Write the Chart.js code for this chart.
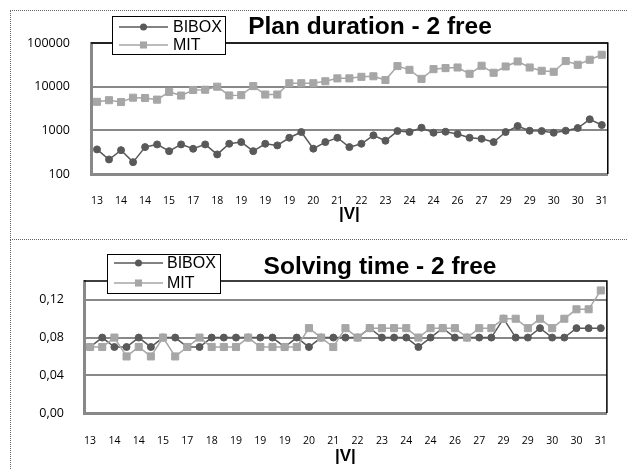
<!DOCTYPE html>
<html>
<head>
<meta charset="utf-8">
<script src="https://cdn.jsdelivr.net/npm/chart.js@4.4.1/dist/chart.umd.min.js"></script>
<style>
  body { margin: 0; background: #fff; }
  .frame { position: absolute; left: 10px; width: 618px; border-top: 1px dotted #666; border-left: 1px dotted #666; }
  canvas { position: absolute; left: 0; top: 0; }
</style>
</head>
<body>
<div class="frame" style="top:10px;height:229px"><canvas id="plan" width="618" height="229"></canvas></div>
<div class="frame" style="top:239px;height:231px"><canvas id="time" width="618" height="231"></canvas></div>
<script>
// |V| per instance (only every second one is printed on the axis)
const sizes = [13, 13, 14, 14, 14, 15, 15, 16, 17, 17, 18, 18, 19, 19, 19, 19, 19, 20, 20, 20, 21, 21,
  22, 22, 23, 23, 24, 24, 24, 25, 26, 26, 27, 28, 29, 29, 29, 30, 30, 30, 30, 31, 31];

const planBibox = [366, 215, 352, 187, 413, 476, 334, 476, 378, 476, 281, 493, 538, 334, 493, 452, 676, 914,
  380, 538, 676, 413, 493, 767, 577, 963, 914, 1148, 881, 929, 822, 676, 641, 538, 914, 1256, 980, 963,
  881, 980, 1130, 1790, 1324];
const planMit = [4500, 4900, 4450, 5600, 5500, 5050, 7600, 6250, 8400, 8500, 10000, 6300, 6400, 10300, 6600,
  6600, 12000, 12000, 12000, 13300, 15500, 15500, 16800, 17300, 14200, 29600, 24300, 15100, 25200, 26600,
  27500, 19700, 30100, 20800, 29000, 37800, 27500, 23100, 21900, 38600, 31700, 41300, 53800];

const timeBibox = [0.07, 0.08, 0.07, 0.07, 0.08, 0.07, 0.08, 0.08, 0.07, 0.07, 0.08, 0.08, 0.08, 0.08, 0.08,
  0.08, 0.07, 0.08, 0.07, 0.08, 0.08, 0.08, 0.08, 0.09, 0.08, 0.08, 0.08, 0.07, 0.08, 0.09, 0.08, 0.08,
  0.08, 0.08, 0.10, 0.08, 0.08, 0.09, 0.08, 0.08, 0.09, 0.09, 0.09];
const timeMit = [0.07, 0.07, 0.08, 0.06, 0.07, 0.06, 0.08, 0.06, 0.07, 0.08, 0.07, 0.07, 0.07, 0.08, 0.07,
  0.07, 0.07, 0.07, 0.09, 0.08, 0.07, 0.09, 0.08, 0.09, 0.09, 0.09, 0.09, 0.08, 0.09, 0.09, 0.09, 0.08,
  0.09, 0.09, 0.10, 0.10, 0.09, 0.10, 0.09, 0.10, 0.11, 0.11, 0.13];

const planTicks = [100, 1000, 10000, 100000];
const timeTicks = [0, 0.04, 0.08, 0.12];

const DARK = "#595959";
const LIGHT = "#a6a6a6";
const AXIS = "#888888";

// title, black top/right frame and the boxed legend that sits over the plot
const excelDecor = {
  id: "excelDecor",
  afterDraw(chart, args, o) {
    const { ctx, chartArea: a } = chart;
    ctx.save();
    ctx.strokeStyle = "#000";
    ctx.lineWidth = 1.5;
    ctx.beginPath();
    ctx.moveTo(a.left, a.top);
    ctx.lineTo(a.right, a.top);
    ctx.lineTo(a.right, a.bottom);
    ctx.stroke();

    ctx.fillStyle = "#000";
    ctx.font = 'bold 24.5px "Liberation Sans", Arial, sans-serif';
    ctx.textAlign = "center";
    ctx.textBaseline = "alphabetic";
    ctx.fillText(o.title, o.titleX, o.titleY);

    const b = o.box;
    ctx.fillStyle = "#fff";
    ctx.fillRect(b.x, b.y, b.w, b.h);
    ctx.strokeStyle = "#000";
    ctx.lineWidth = 1;
    ctx.strokeRect(b.x + 0.5, b.y + 0.5, b.w, b.h);
    ctx.font = '16px "Liberation Sans", Arial, sans-serif';
    ctx.textAlign = "left";
    ctx.textBaseline = "middle";
    chart.data.datasets.forEach((ds, i) => {
      const y = b.rows[i];
      const mx = (b.x0 + b.x1) / 2;
      ctx.strokeStyle = ds.borderColor;
      ctx.fillStyle = ds.borderColor;
      ctx.lineWidth = 1.5;
      ctx.beginPath();
      ctx.moveTo(b.x0, y);
      ctx.lineTo(b.x1, y);
      ctx.stroke();
      ctx.beginPath();
      if (ds.pointStyle === "rect") {
        const s = ds.pointRadius * Math.SQRT1_2;
        ctx.rect(mx - s, y - s, 2 * s, 2 * s);
      } else {
        ctx.arc(mx, y, ds.pointRadius, 0, Math.PI * 2);
      }
      ctx.fill();
      ctx.fillStyle = "#000";
      ctx.fillText(ds.label, b.tx, y + 1);
    });
    ctx.restore();
  },
};

function series(label, data, color, style, radius, order) {
  return {
    label, data, order,
    borderColor: color, backgroundColor: color,
    borderWidth: 1.5, pointStyle: style, pointRadius: radius,
    pointBorderWidth: 1, pointHoverRadius: radius, tension: 0,
  };
}

function makeChart(id, s) {
  return new Chart(document.getElementById(id), {
    type: "line",
    data: {
      labels: sizes,
      datasets: [
        series("BIBOX", s.bibox, DARK, "circle", 3.5, 1),
        series("MIT", s.mit, LIGHT, "rect", 5, 0),
      ],
    },
    plugins: [excelDecor],
    options: {
      responsive: false,
      animation: false,
      events: [],
      layout: { autoPadding: false, padding: { left: 0, right: s.padRight, top: s.padTop, bottom: 0 } },
      plugins: {
        legend: { display: false },
        tooltip: { enabled: false },
        excelDecor: s.decor,
      },
      scales: {
        x: {
          offset: true,
          afterFit: (sc) => { sc.height = s.xHeight; },
          border: { color: AXIS, width: 3 },
          grid: { display: false, drawTicks: false },
          ticks: {
            autoSkip: false, maxRotation: 0, padding: s.xPad, color: "#000",
            font: { family: "Open Sans", size: 10.5 },
            callback(v, i) { return i % 2 ? "" : this.getLabelForValue(v); },
          },
          title: {
            display: true, text: "|V|", color: "#000",
            font: { family: "Liberation Sans", size: 17, weight: "bold" },
            padding: { top: 0, bottom: s.titlePad },
          },
        },
        y: Object.assign({
          afterFit: (sc) => { sc.width = s.yWidth; },
          afterBuildTicks: (sc) => { sc.ticks = s.ticks.map((v) => ({ value: v })); },
          border: { color: AXIS, width: 3 },
          grid: { color: AXIS, lineWidth: 2, drawTicks: false },
          ticks: {
            padding: s.yPad, color: "#000",
            font: { family: "Open Sans", size: 12.5 },
            callback: s.fmt,
          },
        }, s.yRange),
      },
    },
  });
}

makeChart("plan", {
  bibox: planBibox, mit: planMit, ticks: planTicks,
  yRange: { type: "logarithmic", min: 100, max: 100000 },
  fmt: (v) => String(v),
  padRight: 19, padTop: 32, xHeight: 66, yWidth: 80, xPad: 21, yPad: 21, titlePad: 15,
  decor: {
    title: "Plan duration - 2 free", titleX: 359, titleY: 23,
    box: { x: 101, y: 5, w: 113, h: 38, rows: [16, 34], x0: 108, x1: 157, tx: 162 },
  },
});

makeChart("time", {
  bibox: timeBibox, mit: timeMit, ticks: timeTicks,
  yRange: { type: "linear", min: 0, max: 0.14 },
  fmt: (v) => v.toFixed(2).replace(".", ","),
  padRight: 16, padTop: 41, xHeight: 58, yWidth: 73, xPad: 22, yPad: 20, titlePad: 4,
  decor: {
    title: "Solving time - 2 free", titleX: 369, titleY: 34,
    box: { x: 96, y: 14, w: 113, h: 39, rows: [23, 43], x0: 103, x1: 152, tx: 156 },
  },
});
</script>
</body>
</html>
